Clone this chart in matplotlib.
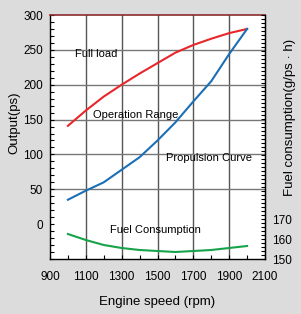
import matplotlib
matplotlib.use("Agg")
import matplotlib.pyplot as plt
from matplotlib.ticker import MultipleLocator

plt.rcParams["font.family"] = ["Liberation Sans Narrow", "Liberation Sans", "DejaVu Sans"]

RED, BLUE, GREEN = "#e8262b", "#1a6fb5", "#17a34a"
BG = "#dcdcdc"

rpm = [1000, 1100, 1200, 1300, 1400, 1500, 1600, 1700, 1800, 1900, 2000]
full_load = [141, 163, 183, 200, 216, 231, 246, 257, 266, 274, 280]
propulsion = [35, 48, 60, 78, 96, 120, 146, 176, 205, 244, 280]
fuel = [162.5, 159.5, 157, 155.5, 154.5, 154, 153.5, 154, 154.5, 155.5, 156.5]

xticks = [900, 1100, 1300, 1500, 1700, 1900, 2100]
yticks = [0, 50, 100, 150, 200, 250, 300]
fuel_ticks = [150, 160, 170]

fig = plt.figure(figsize=(3.01, 3.14), dpi=100, facecolor=BG)
ax = fig.add_axes([50 / 301, 55 / 314, 215 / 301, 244 / 314])
ax.set_facecolor("white")

ax.set_xlim(900, 2100)
ax.set_ylim(-50, 300)
ax.set_xticks(xticks)
ax.xaxis.set_minor_locator(MultipleLocator(100))
ax.set_yticks(yticks)
ax.yaxis.set_minor_locator(MultipleLocator(10))
ax.tick_params(which="both", direction="in", length=3, width=0.8, labelsize=8.5)
ax.tick_params(axis="x", which="major", pad=9)
ax.tick_params(axis="y", which="major", pad=5)

# grid: vertical lines darker than horizontal ones
for v in xticks[1:-1]:
    ax.axvline(v, color="#555555", lw=1.0, zorder=1)
for v in yticks[1:-1]:
    ax.axhline(v, color="#777777", lw=1.0, zorder=1)

ax.plot(rpm, full_load, color=RED, lw=1.5, zorder=3)
ax.plot(rpm, propulsion, color=BLUE, lw=1.5, zorder=3)

for s in ["left", "bottom", "right"]:
    ax.spines[s].set_color("black")
    ax.spines[s].set_linewidth(1.0)
ax.spines["top"].set_color("#8b2b2b")
ax.spines["top"].set_linewidth(1.2)

ax.text(1040, 244, "Full load", fontsize=8, va="center", ha="left")
ax.text(1140, 157, "Operation Range", fontsize=8, va="center", ha="left")
ax.text(1547, 95, "Propulsion Curve", fontsize=8, va="center", ha="left")
ax.text(1235, -9, "Fuel Consumption", fontsize=8, va="center", ha="left")

ax.set_xlabel("Engine speed (rpm)", fontsize=9.5)
ax.xaxis.set_label_coords(0.5, -0.15)
ax.set_ylabel("Output(ps)", fontsize=9.5)
ax.yaxis.set_label_coords(-0.14, 0.56)

# fuel consumption on its own right-hand scale
ax2 = ax.twinx()
ax2.set_ylim(150, 150 + 244 / 2)
ax2.plot(rpm, fuel, color=GREEN, lw=1.5, zorder=3)
ax2.set_yticks(fuel_ticks)
ax2.yaxis.set_minor_locator(MultipleLocator(2))
ax2.tick_params(which="both", direction="in", length=3, width=0.8, labelsize=8.5, pad=5)
ax2.set_ylabel("Fuel consumption(g/ps \u00b7 h)", fontsize=9.5)
ax2.yaxis.set_label_coords(1.09, 0.58)
for s in ["top", "bottom", "left"]:
    ax2.spines[s].set_visible(False)

fig.savefig("out.png", dpi=100, facecolor=BG)
